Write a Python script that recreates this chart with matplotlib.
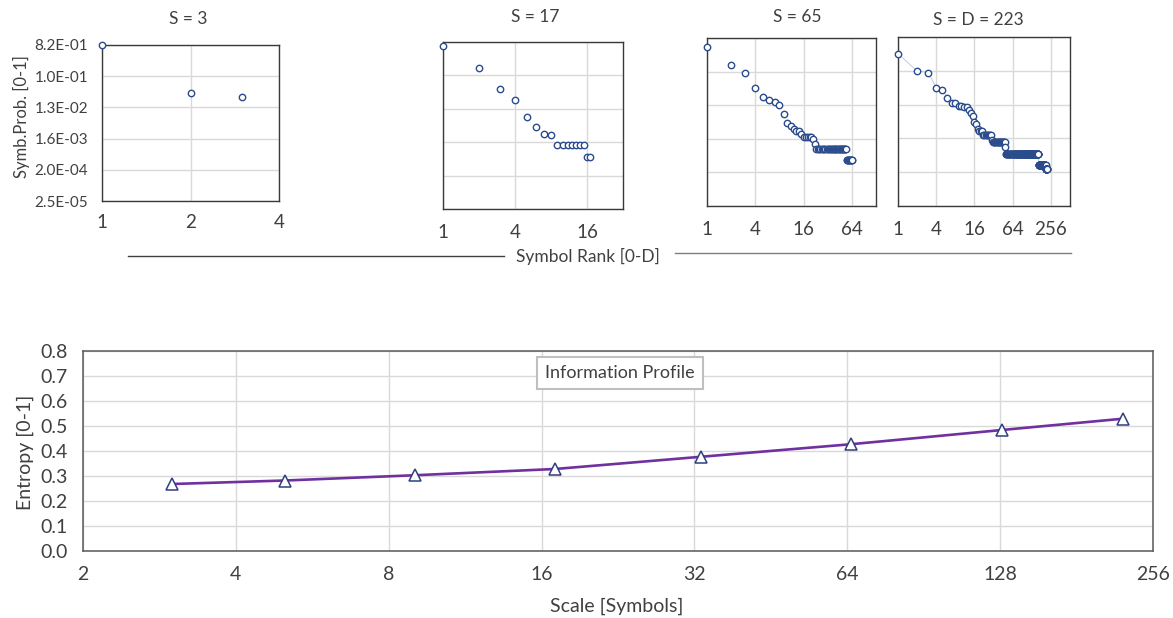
import numpy as np
import matplotlib
matplotlib.use("Agg")
import matplotlib.pyplot as plt
from matplotlib.lines import Line2D

plt.rcParams["font.family"] = ["Lato", "DejaVu Sans"]

# --- rank / probability profiles ---
s3_prob = [0.82, 0.0328, 0.0256]

s17_prob = [0.639, 0.163, 0.0442, 0.0219, 0.00776, 0.00409, 0.00270, 0.00254,
            0.00135, 0.00131, 0.00131, 0.00131, 0.00131, 0.00131, 0.00131,
            0.00065, 0.00065]

# probability level and how many consecutive ranks sit on it
s65_levels = [0.458, 0.150, 0.0935, 0.0383, 0.0219, 0.0173, 0.0153, 0.0127,
              0.00764, 0.00421, 0.00363, 0.00290, 0.00266, 0.00261, 0.00213,
              0.00177, 0.00156, 0.00119, 0.000855, 0.000441]
s65_counts = [1, 1, 1, 1, 1, 1, 1, 1, 1, 1, 1, 1, 1, 1, 1, 5, 1, 1, 32, 11]

s223_levels = [0.295, 0.101, 0.0917, 0.0365, 0.0314, 0.0195, 0.0141, 0.0141,
               0.0121, 0.0120, 0.0113, 0.0108, 0.00942, 0.00783, 0.00651,
               0.00450, 0.00398, 0.00293, 0.00256, 0.00253, 0.00248,
               0.00200, 0.00149, 0.00126, 0.000944, 0.000614, 0.000320, 0.000244]
s223_counts = [1, 1, 1, 1, 1, 1, 1, 1, 1, 1, 1, 1, 1, 1, 1, 1, 1, 1, 1, 1, 1,
               8, 1, 18, 1, 114, 48, 12]

prob_ticks = [0.82, 0.1025, 0.0128125, 0.00160156, 0.000200195, 0.0000250244]
prob_labels = ["8.2E-01", "1.0E-01", "1.3E-02", "1.6E-03", "2.0E-04", "2.5E-05"]

# --- information profile ---
scale_symbols = [3, 5, 9, 17, 33, 65, 129, 223]
entropy = [0.268, 0.282, 0.303, 0.328, 0.377, 0.427, 0.484, 0.529]
scale_ticks = [2, 4, 8, 16, 32, 64, 128, 256]

W, H = 1173, 618
fig = plt.figure(figsize=(W / 100, H / 100), dpi=100)


def px_axes(l, t, r, b):
    return fig.add_axes([l / W, 1 - b / H, (r - l) / W, (b - t) / H])


def px_text(x, y, s, **kw):
    fig.text(x / W, 1 - y / H, s, ha="center", va="center", **kw)


GRID = "#D9D9D9"
NAVY = "#2B4C8C"
TXT = "#404040"

panels = [
    ("S = 3", s3_prob, None, (102, 45, 279, 201), 4, [1, 2, 4], (188, 19), 9),
    ("S = 17", s17_prob, None, (443, 42, 623, 209), 32, [1, 4, 16], (535, 17), 11),
    ("S = 65", s65_levels, s65_counts, (707, 38, 876, 206), 128, [1, 4, 16, 64], (797, 17), 11),
    ("S = D = 223", s223_levels, s223_counts, (898, 37, 1070, 206), 512,
     [1, 4, 16, 64, 256], (978, 20), 11),
]

for i, (title, levels, counts, box, xmax, xticks, tpos, xpad) in enumerate(panels):
    ax = px_axes(*box)
    probs = np.repeat(levels, counts) if counts else np.array(levels)
    ranks = np.arange(1, len(probs) + 1)
    if i == 3:
        ax.plot(ranks, probs, color="#B4C3DE", lw=0.6, zorder=2)
    ax.plot(ranks, probs, ls="none", marker="o", ms=4.6, mfc="white",
            mec=NAVY, mew=1.0, zorder=3, clip_on=False)
    ax.set_xscale("log", base=2)
    ax.set_yscale("log", base=8)
    ax.set_xlim(1, xmax)
    ax.set_ylim(prob_ticks[-1], prob_ticks[0])
    ax.set_xticks(xticks)
    ax.set_xticklabels([str(t) for t in xticks])
    ax.xaxis.set_minor_locator(plt.NullLocator())
    ax.yaxis.set_minor_locator(plt.NullLocator())
    ax.set_yticks(prob_ticks)
    if i == 0:
        ax.set_yticklabels(prob_labels, fontsize=11)
    else:
        ax.set_yticklabels([])
    ax.tick_params(axis="x", length=0, labelsize=13.5, colors=TXT, pad=xpad)
    ax.tick_params(axis="y", length=0, colors=TXT, pad=10)
    ax.grid(True, color=GRID, lw=1.0)
    ax.set_axisbelow(True)
    for sp in ax.spines.values():
        sp.set_color("#3A3A3A")
        sp.set_linewidth(1.0)
    px_text(tpos[0], tpos[1], title, fontsize=12.5, color=TXT)

px_text(21, 117, "Symb.Prob. [0-1]", fontsize=12, color=TXT, rotation=90)
px_text(588, 256, "Symbol Rank [0-D]", fontsize=12.5, color=TXT)
fig.add_artist(Line2D([128 / W, 504 / W], [1 - 255.5 / H, 1 - 255.5 / H],
                      color=TXT, lw=1.0))
fig.add_artist(Line2D([675 / W, 1071 / W], [1 - 253.5 / H, 1 - 253.5 / H],
                      color="#7F7F7F", lw=1.0))

# --- bottom chart ---
ax = px_axes(83, 351, 1153, 551)
ax.plot(scale_symbols, entropy, color="#7030A0", lw=1.9, zorder=3)
ax.plot(scale_symbols, entropy, ls="none", marker="^", ms=9, mfc="white",
        mec="#2F3F7F", mew=1.1, zorder=4)
ax.set_xscale("log", base=2)
ax.set_xlim(2, 256)
ax.set_ylim(0, 0.8)
ax.set_xticks(scale_ticks)
ax.set_xticklabels([str(t) for t in scale_ticks])
ax.xaxis.set_minor_locator(plt.NullLocator())
ax.set_yticks(np.arange(0, 0.81, 0.1))
ax.set_yticklabels([f"{v:.1f}" for v in np.arange(0, 0.81, 0.1)])
ax.tick_params(length=0, labelsize=14, colors=TXT)
ax.tick_params(axis="x", pad=11)
ax.tick_params(axis="y", pad=11)
ax.grid(True, color=GRID, lw=1.0)
ax.set_axisbelow(True)
for sp in ax.spines.values():
    sp.set_color("#595959")
    sp.set_linewidth(1.1)

px_text(620, 373, "Information Profile", fontsize=13, color=TXT,
        bbox=dict(boxstyle="square,pad=0.45", fc="white", ec="#BFBFBF", lw=1.5))
px_text(25, 452, "Entropy [0-1]", fontsize=14, color=TXT, rotation=90)
px_text(617, 606, "Scale [Symbols]", fontsize=14, color=TXT)

fig.savefig("out.png", dpi=100)
